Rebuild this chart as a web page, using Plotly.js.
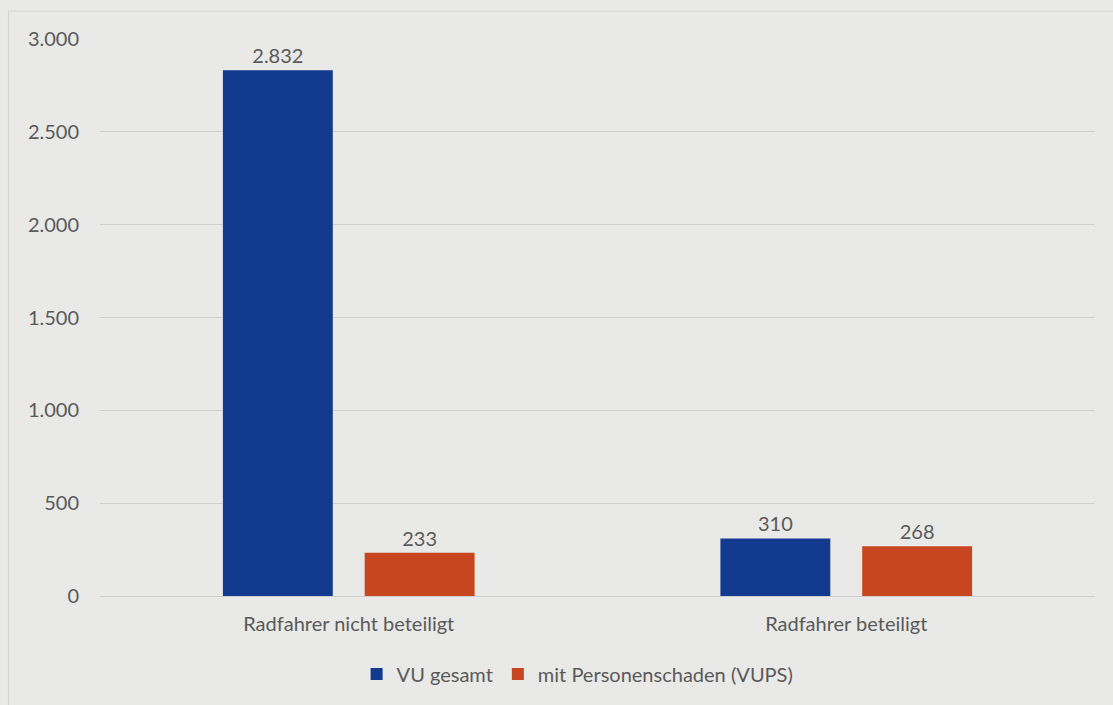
<!DOCTYPE html>
<html><head><meta charset="utf-8">
<script src="https://cdn.plot.ly/plotly-3.0.1.min.js"></script>
<style>html,body{margin:0;padding:0;background:#e9e9e7;}</style>
</head><body>
<div id="chart" style="width:1113px;height:705px;"></div>
<script>
const categories = ["Radfahrer nicht beteiligt", "Radfahrer beteiligt"];
const vuGesamt = [2832, 310];
const mitPersonenschaden = [233, 268];
const seriesNames = ["VU gesamt", "mit Personenschaden (VUPS)"];
const tickValues = [0, 500, 1000, 1500, 2000, 2500, 3000];
const tickLabels = ["0", "500", "1.000", "1.500", "2.000", "2.500", "3.000"];
const fmt = v => v.toLocaleString("de-DE");

const font = {family: "Lato, 'Open Sans', sans-serif", size: 20, color: "#5a5a5a"};
const traces = [
  {type: "bar", name: seriesNames[0], x: categories, y: vuGesamt,
   marker: {color: "#123a8f"}, text: vuGesamt.map(fmt), textposition: "outside",
   textfont: font, cliponaxis: false, hoverinfo: "none"},
  {type: "bar", name: seriesNames[1], x: categories, y: mitPersonenschaden,
   marker: {color: "#c8461f"}, text: mitPersonenschaden.map(fmt), textposition: "outside",
   textfont: font, cliponaxis: false, hoverinfo: "none"}
];
const layout = {
  width: 1113, height: 705,
  paper_bgcolor: "#e9e9e7", plot_bgcolor: "#e9e9e7",
  margin: {l: 100, r: 18, t: 39, b: 109},
  font: font,
  barmode: "group", bargap: 0.43, bargroupgap: 0.225,
  xaxis: {showgrid: false, showline: true, linecolor: "#cfcfcf", linewidth: 1,
          ticks: "", tickfont: font, zeroline: false, automargin: false, ticklabelstandoff: 10},
  yaxis: {range: [0, 3000], tickvals: tickValues, ticktext: tickLabels,
          showgrid: true, gridcolor: "#cfcfcf", gridwidth: 1, zeroline: false,
          tickfont: font, ticks: "", ticklabelstandoff: 20, showline: false, automargin: false},
  showlegend: true,
  legend: {orientation: "h", x: 0.48, xanchor: "center", y: -0.105, yanchor: "top",
           font: font, itemwidth: 30, traceorder: "normal"},
  shapes: [{type: "rect", xref: "paper", yref: "paper", x0: -0.092, x1: 1.03, y0: -0.2, y1: 1.05,
            line: {color: "#d4d4d4", width: 1}, fillcolor: "rgba(0,0,0,0)"}]
};
Plotly.newPlot("chart", traces, layout, {displayModeBar: false, staticPlot: true});
</script>
</body></html>
